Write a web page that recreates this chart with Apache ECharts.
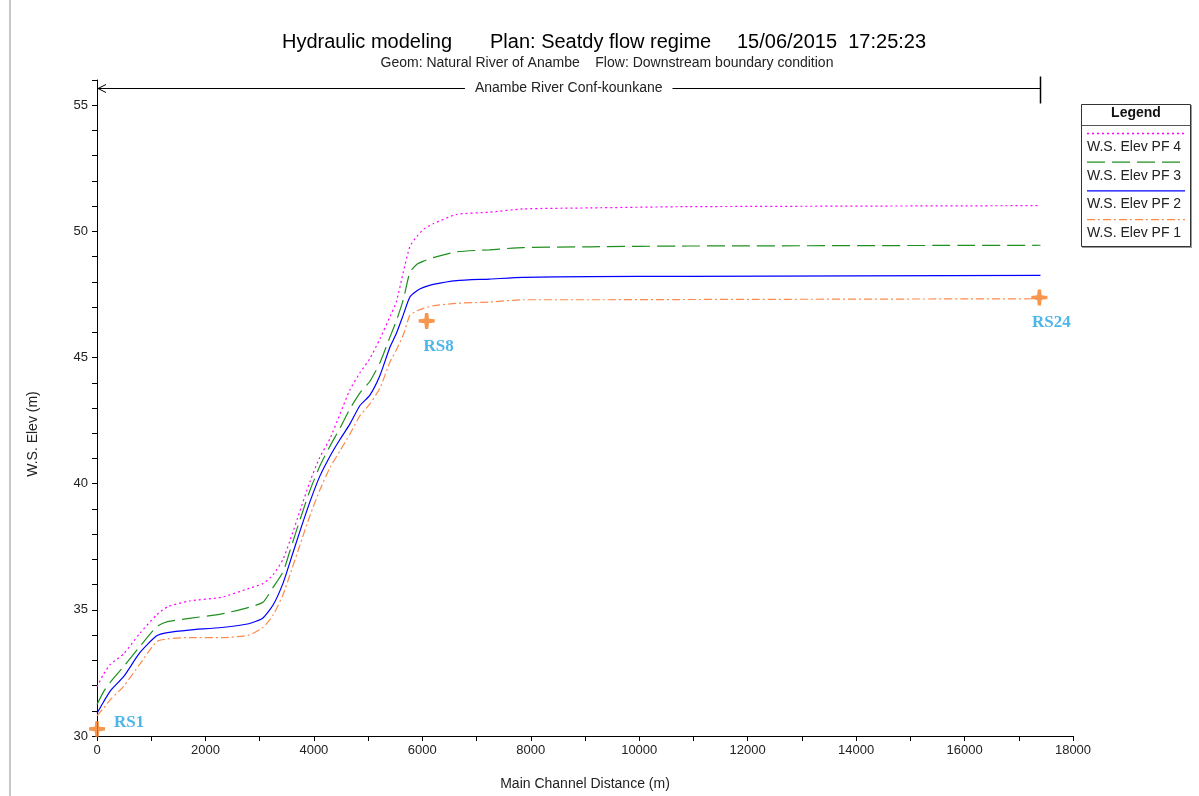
<!DOCTYPE html>
<html>
<head>
<meta charset="utf-8">
<script src="https://cdn.jsdelivr.net/npm/echarts@6/dist/echarts.min.js"></script>
<style>
  html, body { margin: 0; padding: 0; background: #fff; }
  #chart { width: 1199px; height: 796px; }
</style>
</head>
<body>
<div id="chart"></div>
<script>
// main channel distance (m) of the profile points
const distance = [0, 120, 250, 490, 790, 1100, 1300, 1700, 2300, 2800, 3060, 3250, 3430, 3560, 3740, 3930, 4110, 4300, 4480, 4660, 4850, 5030, 5220, 5400, 5520, 5650, 5770, 5900, 6020, 6200, 6630, 7240, 7860, 9090, 10900, 17400]

// water surface elevation (m) per profile
const pf4 = [31.95, 32.45, 32.85, 33.25, 34.07, 34.8, 35.12, 35.35, 35.5, 35.85, 36.04, 36.4, 37.0, 37.75, 38.9, 40.1, 41.05, 41.8, 42.75, 43.7, 44.4, 44.95, 45.75, 46.6, 47.2, 48.4, 49.4, 49.8, 50.08, 50.3, 50.67, 50.76, 50.89, 50.93, 50.98, 51.02]
const pf3 = [31.25, 31.75, 32.15, 32.75, 33.55, 34.33, 34.53, 34.66, 34.84, 35.1, 35.3, 35.9, 36.5, 37.35, 38.55, 39.75, 40.7, 41.5, 42.2, 42.95, 43.6, 44.05, 44.8, 45.8, 46.45, 47.3, 48.37, 48.7, 48.82, 48.96, 49.19, 49.27, 49.36, 49.39, 49.42, 49.45]
const pf2 = [30.9, 31.35, 31.8, 32.35, 33.3, 33.97, 34.1, 34.2, 34.3, 34.45, 34.68, 35.2, 36.05, 36.9, 38.1, 39.3, 40.3, 41.1, 41.75, 42.35, 43.1, 43.5, 44.3, 45.4, 45.95, 46.7, 47.4, 47.65, 47.78, 47.9, 48.05, 48.11, 48.18, 48.21, 48.22, 48.26]
const pf1 = [30.8, 31.1, 31.45, 31.97, 32.85, 33.74, 33.85, 33.9, 33.9, 34.0, 34.3, 34.8, 35.6, 36.4, 37.55, 38.75, 39.75, 40.65, 41.3, 41.95, 42.7, 43.15, 43.8, 44.8, 45.3, 45.9, 46.67, 46.85, 46.95, 47.05, 47.15, 47.2, 47.29, 47.29, 47.3, 47.33]

// river stations marked on the profile
const stationNames = ['RS1', 'RS8', 'RS24']
const stationX = [0, 6080, 17380]
const stationY = [30.28, 46.45, 47.38]

// reach annotation
const reachName = 'Anambe River Conf-kounkane'
const reachStart = 0
const reachEnd = 17400
const reachLevel = 55.67

const profiles = [
  { name: 'W.S. Elev PF 4', values: pf4, color: '#ff00ff', dash: [2, 3] },
  { name: 'W.S. Elev PF 3', values: pf3, color: '#1f8f1f', dash: [18, 7] },
  { name: 'W.S. Elev PF 2', values: pf2, color: '#0000ff', dash: 'solid' },
  { name: 'W.S. Elev PF 1', values: pf1, color: '#ff8a4c', dash: [8, 3, 2, 3] }
]

const FONT = 'Arial, "Liberation Sans", sans-serif'
const crossPath = 'path://M-1.4,-7 L1.4,-7 L2,-2 L7,-1.4 L7,1.4 L2,2 L1.4,7 L-1.4,7 L-2,2 L-7,1.4 L-7,-1.4 L-2,-2 Z'

const chart = echarts.init(document.getElementById('chart'))

const series = profiles.map(p => ({
  name: p.name,
  type: 'line',
  data: distance.map((d, i) => [d, p.values[i]]),
  showSymbol: false,
  smooth: 0.2,
  lineStyle: { color: p.color, width: 1.2, type: p.dash },
  itemStyle: { color: p.color },
  z: 3
}))

series.push({
  type: 'scatter',
  data: stationNames.map((n, i) => ({
    value: [stationX[i], stationY[i]],
    name: n,
    label: i === 0
      ? { position: 'right', offset: [4, -6] }
      : { position: 'bottom', offset: [12, 4] }
  })),
  symbol: crossPath,
  symbolSize: 16,
  itemStyle: { color: '#f57c22' },
  label: {
    show: true,
    formatter: '{b}',
    fontFamily: '"Liberation Serif", "DejaVu Serif", serif',
    fontWeight: 'bold',
    fontSize: 17,
    color: '#22a3e4'
  },
  z: 5
})

const option = {
  animation: false,
  backgroundColor: '#fff',
  grid: { left: 97, right: 126, top: 80, bottom: 56 },
  xAxis: {
    type: 'value',
    min: 0,
    max: 18000,
    interval: 1000,
    name: 'Main Channel Distance (m)',
    nameLocation: 'middle',
    nameGap: 41,
    nameTextStyle: { fontFamily: FONT, fontSize: 14, color: '#222' },
    axisLine: { lineStyle: { color: '#000', width: 1 } },
    axisTick: { length: 5, lineStyle: { color: '#000' } },
    axisLabel: {
      fontFamily: FONT, fontSize: 13, color: '#222', margin: 8,
      formatter: v => (v % 2000 === 0 ? String(v) : '')
    },
    splitLine: { show: false }
  },
  yAxis: {
    type: 'value',
    min: 30,
    max: 56,
    interval: 1,
    axisLine: { show: true, lineStyle: { color: '#000', width: 1 } },
    axisTick: { show: true, length: 5, lineStyle: { color: '#000' } },
    axisLabel: {
      fontFamily: FONT, fontSize: 13, color: '#222', margin: 9,
      formatter: v => (v % 5 === 0 && v <= 55 ? String(v) : '')
    },
    splitLine: { show: false }
  },
  series: series
}

chart.setOption(option)

// annotation, legend and titles placed after the scales exist
const p0 = chart.convertToPixel({ gridIndex: 0 }, [reachStart, reachLevel])
const p1 = chart.convertToPixel({ gridIndex: 0 }, [reachEnd, reachLevel])
const ay = Math.round(p0[1]) + 0.5

const graphics = [
  { type: 'rect', shape: { x: 9, y: 0, width: 2, height: 796 }, style: { fill: '#c8c8c8' } },
  { type: 'text', x: 282, y: 42, style: { text: 'Hydraulic modeling', font: '20px ' + FONT, fill: '#000', verticalAlign: 'middle' } },
  { type: 'text', x: 490, y: 42, style: { text: 'Plan: Seatdy flow regime', font: '20px ' + FONT, fill: '#000', verticalAlign: 'middle' } },
  { type: 'text', x: 737, y: 42, style: { text: '15/06/2015  17:25:23', font: '20px ' + FONT, fill: '#000', verticalAlign: 'middle' } },
  { type: 'text', x: 607, y: 63, style: { text: 'Geom: Natural River of Anambe    Flow: Downstream boundary condition', font: '14px ' + FONT, fill: '#222', align: 'center', verticalAlign: 'middle' } },
  { type: 'text', x: 33, y: 434, rotation: Math.PI / 2, style: { text: 'W.S. Elev (m)', font: '14px ' + FONT, fill: '#222', align: 'center', verticalAlign: 'middle' } },
  { type: 'line', shape: { x1: p0[0], y1: ay, x2: p1[0], y2: ay }, style: { stroke: '#000', lineWidth: 1 } },
  { type: 'polyline', shape: { points: [[p0[0] + 9, ay - 4], [p0[0] + 1, ay], [p0[0] + 9, ay + 4]] }, style: { stroke: '#000', lineWidth: 1, fill: null } },
  { type: 'line', shape: { x1: Math.round(p1[0]) + 0.5, y1: ay - 12, x2: Math.round(p1[0]) + 0.5, y2: ay + 15 }, style: { stroke: '#000', lineWidth: 1.5 } },
  { type: 'text', x: (p0[0] + p1[0]) / 2, y: ay, z: 10, style: { text: reachName, font: '14px ' + FONT, fill: '#222', align: 'center', verticalAlign: 'middle', backgroundColor: '#fff', padding: [2, 10] } },
  // legend box
  { type: 'rect', shape: { x: 1081.5, y: 104.5, width: 109, height: 142 }, style: { fill: '#fff', stroke: '#333', lineWidth: 1 } },
  { type: 'line', shape: { x1: 1082, y1: 247.5, x2: 1191, y2: 247.5 }, style: { stroke: '#999', lineWidth: 1 } },
  { type: 'line', shape: { x1: 1191.5, y1: 105, x2: 1191.5, y2: 248 }, style: { stroke: '#999', lineWidth: 1 } },
  { type: 'line', shape: { x1: 1081.5, y1: 125.5, x2: 1190.5, y2: 125.5 }, style: { stroke: '#555', lineWidth: 1 } },
  { type: 'text', x: 1136, y: 113, style: { text: 'Legend', font: 'bold 14px ' + FONT, fill: '#111', align: 'center', verticalAlign: 'middle' } }
]

profiles.forEach((p, i) => {
  const ly = 133.5 + i * 28.7
  graphics.push({ type: 'line', shape: { x1: 1087, y1: ly, x2: 1185, y2: ly }, style: { stroke: p.color, lineWidth: 1.3, lineDash: p.dash === 'solid' ? null : p.dash } })
  graphics.push({ type: 'text', x: 1087, y: ly + 13.5, style: { text: p.name, font: '14px ' + FONT, fill: '#222', verticalAlign: 'middle' } })
})

chart.setOption({ graphic: graphics })
</script>
</body>
</html>
